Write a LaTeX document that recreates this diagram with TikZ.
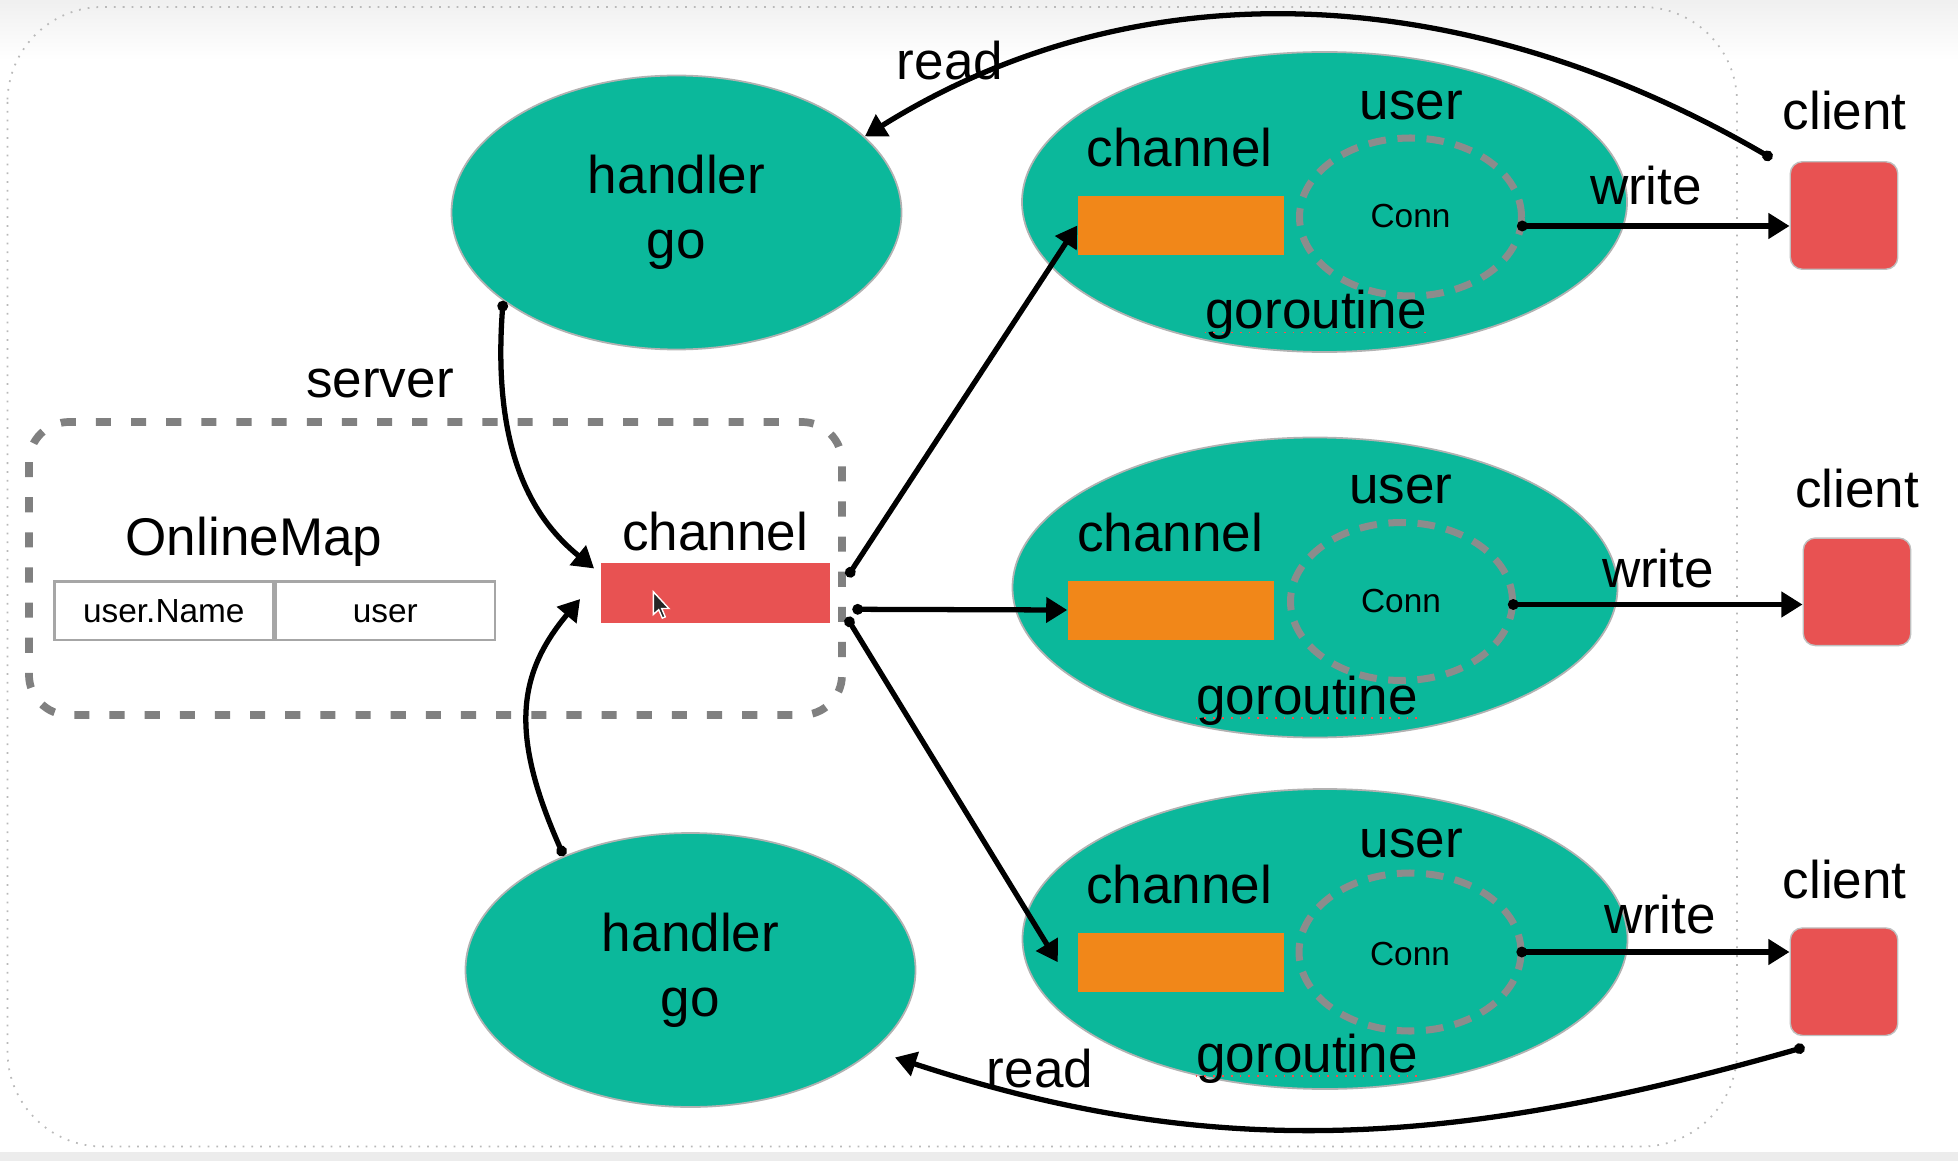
\documentclass[tikz,border=0pt]{standalone}
\usepackage{fontspec}
\setmainfont{Liberation Sans}
\usetikzlibrary{shapes.geometric,arrows.meta,positioning}
\definecolor{tealc}{HTML}{0BB89B}
\definecolor{orangec}{HTML}{F18719}
\definecolor{redc}{HTML}{E85252}
\definecolor{ringc}{HTML}{8C8C8C}
\definecolor{framec}{HTML}{808080}
\tikzset{
  bigtext/.style={font=\fontsize{15.1pt}{18.5pt}\selectfont, inner sep=0pt},
  smalltext/.style={font=\fontsize{9.5pt}{11pt}\selectfont, inner sep=0pt},
  handler/.style={ellipse, fill=tealc, draw=gray!60, line width=0.5pt, minimum width=4.5cm, minimum height=2.74cm, align=center, bigtext},
  gor/.style={ellipse, fill=tealc, draw=gray!60, line width=0.5pt, minimum width=6.05cm, minimum height=3.0cm},
  chan/.style={rectangle, fill=orangec, minimum width=2.06cm, minimum height=0.59cm, inner sep=0pt},
  ring/.style={ellipse, draw=ringc, line width=2pt, dash pattern=on 5pt off 3.3pt, minimum width=2.22cm, minimum height=1.58cm, inner sep=0pt},
  client/.style={rectangle, rounded corners=0.12cm, fill=redc, draw=gray!50, line width=0.4pt, minimum size=1.075cm, inner sep=0pt},
  cell/.style={rectangle, draw=gray!70, line width=0.7pt, minimum width=2.19cm, minimum height=0.583cm, text height=0.24cm, text depth=0pt, smalltext},
  link/.style={line width=1.5pt, {Circle[length=3pt]}-{Triangle[length=6pt,width=7pt]}},
  spell/.style={draw=red!70, line width=0.5pt, dotted},
}
\begin{document}
\begin{tikzpicture}
\useasboundingbox (0,0) rectangle (19.58,-11.61);
% slide backdrop
\shade[top color=gray!12, bottom color=white] (0,0) rectangle (19.58,-0.6);
\fill[gray!15] (0,-11.52) rectangle (19.58,-11.61);
\draw[gray!55, dotted, line width=0.5pt, rounded corners=0.95cm] (0.075,-0.07) rectangle (17.37,-11.465);

% server side
\draw[framec, line width=2.2pt, dash pattern=on 4.3pt off 5.7pt, rounded corners=0.4cm] (0.29,-4.22) rectangle (8.42,-7.15);
\node[bigtext, anchor=base] (mapname) at (2.54,-5.553) {OnlineMap};
\node[cell] (key) at (1.6385,-6.1085) {user.Name};
\node[cell, right=0pt of key] (val) {user};
\node[rectangle, fill=redc, minimum width=2.29cm, minimum height=0.6cm, inner sep=0pt] (sc) at (7.155,-5.927) {};
\node[bigtext, anchor=base] (sclabel) at (7.15,-5.507) {channel};
\node[bigtext, anchor=base] (server) at (3.80,-3.98) {server};
\filldraw[black!85, draw=white, line width=0.4pt, shift={(6.533,-5.917)}, scale=0.012] (0,0) -- (0,-19) -- (4.5,-15) -- (7.5,-22) -- (10,-21) -- (7,-14) -- (13,-14) -- cycle;

% handlers
\node[handler] (h1) at (6.765,-2.125) {handler\\go};
\node[handler] (h2) at (6.905,-9.70) {handler\\go};

% goroutines
\begin{scope}[shift={(13.245,-2.02)}]
\node[gor] (g1) at (0,0) {};
\node[chan] (c1) at (-1.435,-0.235) {};
\node[ring] (r1) at (0.86,-0.15) {};
\node[bigtext, anchor=base] (ch1) at (-1.45,0.35) {channel};
\node[bigtext, anchor=base] (u1) at (0.87,0.825) {user};
\node[smalltext, anchor=base] (cn1) at (0.86,-0.26) {Conn};
\node[bigtext, anchor=base] (gr1) at (-0.085,-1.265) {goroutine};
\end{scope}
\begin{scope}[shift={(13.15,-5.875)}]
\node[gor] (g2) at (0,0) {};
\node[chan] (c2) at (-1.44,-0.225) {};
\node[ring] (r2) at (0.865,-0.14) {};
\node[bigtext, anchor=base] (ch2) at (-1.45,0.365) {channel};
\node[bigtext, anchor=base] (u2) at (0.86,0.837) {user};
\node[smalltext, anchor=base] (cn2) at (0.86,-0.245) {Conn};
\node[bigtext, anchor=base] (gr2) at (-0.08,-1.265) {goroutine};
\end{scope}
\begin{scope}[shift={(13.25,-9.39)}]
\node[gor] (g3) at (0,0) {};
\node[chan] (c3) at (-1.445,-0.232) {};
\node[ring] (r3) at (0.85,-0.13) {};
\node[bigtext, anchor=base] (ch3) at (-1.46,0.36) {channel};
\node[bigtext, anchor=base] (u3) at (0.865,0.82) {user};
\node[smalltext, anchor=base] (cn3) at (0.85,-0.26) {Conn};
\node[bigtext, anchor=base] (gr3) at (-0.18,-1.33) {goroutine};
\end{scope}
\draw[spell] ([yshift=-0.04cm]gr1.base west) -- ([yshift=-0.04cm]gr1.base east);
\draw[spell] ([yshift=-0.04cm]gr2.base west) -- ([yshift=-0.04cm]gr2.base east);
\draw[spell] ([yshift=-0.04cm]gr3.base west) -- ([yshift=-0.04cm]gr3.base east);

% clients
\node[client] (cl1) at (18.44,-2.155) {};
\node[client] (cl2) at (18.57,-5.918) {};
\node[client] (cl3) at (18.44,-9.817) {};
\node[bigtext, anchor=base] (k1) at (18.447,-1.30) {client};
\node[bigtext, anchor=base] (k2) at (18.57,-5.07) {client};
\node[bigtext, anchor=base] (k3) at (18.447,-8.98) {client};

% connectors
\draw[link] ([shift={(-0.08,-0.09)}]r1.east) -- ([yshift=-0.09cm]r1.east -| cl1.west);
\draw[link] ([shift={(-0.08,-0.03)}]r2.east) -- ([yshift=-0.03cm]r2.east -| cl2.west);
\draw[link] ([xshift=-0.08cm]r3.east) -- (r3.east -| cl3.west);
\node[bigtext, anchor=base] (w1) at (16.46,-2.045) {write};
\node[bigtext, anchor=base] (w2) at (16.58,-5.87) {write};
\node[bigtext, anchor=base] (w3) at (16.60,-9.33) {write};
\draw[link] ([shift={(0.167,0.16)}]sc.east) -- (c1.west);
\draw[link] ([shift={(0.217,-0.166)}]sc.east) -- (c2.west);
\draw[link] ([shift={(0.16,-0.246)}]sc.east) -- ([xshift=-0.19cm]c3.west);
\draw[link] (h1.-153) .. controls +(-0.12,-1.6) and +(-0.55,0.45) .. ([shift={(-0.062,-0.065)}]sc.north west);
\draw[link] (h2.138) .. controls +(-0.53,1.19) and +(-0.643,-0.766) .. ([shift={(-0.202,-0.063)}]sc.west);
\draw[link] ([shift={(-0.175,0.025)}]cl1.north west) .. controls +(-3.0,1.75) and +(2.8,1.75) .. (h1.22);
\draw[link] ([shift={(0.15,-0.11)}]cl3.south west) .. controls +(-3.5,-1.0) and +(3.2,-1.05) .. ([shift={(0.19,-0.087)}]h2.-23);
\node[bigtext, anchor=base] (rd1) at (9.50,-0.80) {read};
\node[bigtext, anchor=base] (rd2) at (10.40,-10.87) {read};
\end{tikzpicture}
\end{document}
